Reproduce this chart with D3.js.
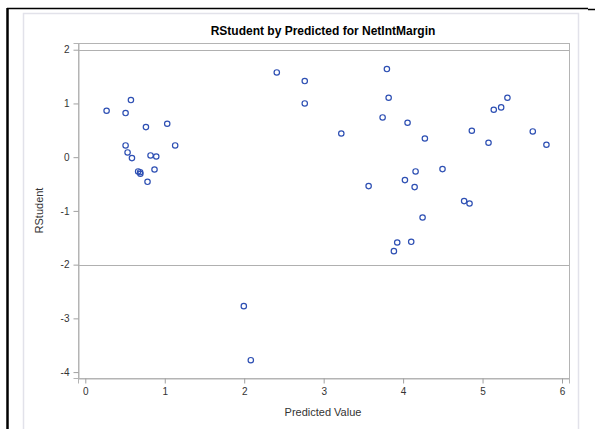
<!DOCTYPE html>
<meta charset="utf-8">
<script src="https://d3js.org/d3.v7.min.js"></script>
<style>
body { margin: 0; background: #fff; font-family: "Liberation Sans", Arial, sans-serif; }
</style>
<svg id="chart" width="595" height="429"></svg>
<script>
// predicted values and rstudent residuals
const predicted = [0.574, 0.268, 0.507, 0.763, 1.031, 0.507, 1.131, 0.532, 0.587, 0.821,
  0.893, 0.665, 0.690, 0.693, 0.871, 0.783,
  2.41, 2.762, 2.762, 1.995, 2.083,
  3.796, 3.818, 3.742, 4.056, 4.274, 3.222,
  3.566, 4.023, 4.157, 4.145, 4.245, 3.926, 4.102, 3.884,
  5.313, 5.234, 5.141, 4.865, 5.632, 5.075, 5.804, 4.496, 4.768, 4.836];
const rstudent = [1.063, 0.864, 0.821, 0.56, 0.622, 0.218, 0.218, 0.088, -0.017, 0.032,
  0.013, -0.266, -0.28, -0.309, -0.229, -0.458,
  1.577, 1.417, 1.0, -2.773, -3.779,
  1.64, 1.106, 0.739, 0.641, 0.348, 0.441,
  -0.538, -0.427, -0.266, -0.557, -1.123, -1.588, -1.575, -1.749,
  1.106, 0.926, 0.883, 0.492, 0.479, 0.268, 0.231, -0.222, -0.818, -0.862];
const xTicks = [0, 1, 2, 3, 4, 5, 6];
const yTicks = [-4, -3, -2, -1, 0, 1, 2];
const refLines = [2, -2];

const points = predicted.map((p, i) => ({ x: p, y: rstudent[i] }));

const svg = d3.select("#chart");
const pLeft = 78, pRight = 569, pTop = 43, pBottom = 378;

// outer frame lines
svg.append("line").attr("x1", 7).attr("x2", 588).attr("y1", 8.5).attr("y2", 8.5)
  .attr("stroke", "#000").attr("stroke-width", 1.5);
svg.append("line").attr("x1", 588).attr("x2", 595).attr("y1", 9.5).attr("y2", 9.5)
  .attr("stroke", "#000").attr("stroke-width", 1.5);
svg.append("line").attr("x1", 7.5).attr("x2", 7.5).attr("y1", 8).attr("y2", 429)
  .attr("stroke", "#000").attr("stroke-width", 2.5);

// graph panel
svg.append("rect").attr("x", 23.5).attr("y", 13.5).attr("width", 555).attr("height", 430)
  .attr("fill", "#fff").attr("stroke", "#e2e2ea").attr("stroke-width", 1.5);

const x = d3.scaleLinear().domain([-0.092, 6.088]).range([pLeft, pRight]);
const y = d3.scaleLinear().domain([-4.11, 2.125]).range([pBottom, pTop]);

svg.append("text").attr("x", 323).attr("y", 35).attr("text-anchor", "middle")
  .attr("font-size", 12).attr("font-weight", "bold").text("RStudent by Predicted for NetIntMargin");

// plot frame
svg.append("rect").attr("x", pLeft + 0.5).attr("y", pTop + 0.5)
  .attr("width", pRight - pLeft).attr("height", pBottom - pTop)
  .attr("fill", "none").attr("stroke", "#b4b4b4");

svg.append("g").selectAll("line").data(refLines).join("line")
  .attr("x1", pLeft).attr("x2", pRight)
  .attr("y1", d => Math.round(y(d)) + 0.5).attr("y2", d => Math.round(y(d)) + 0.5)
  .attr("stroke", "#b0b0b0").attr("stroke-width", 1.2);

const xAxis = svg.append("g").attr("transform", `translate(0,${pBottom + 0.5})`)
  .call(d3.axisBottom(x).tickValues(xTicks).tickSize(5).tickPadding(4).tickFormat(d3.format("d")));
const yAxis = svg.append("g").attr("transform", `translate(${pLeft + 0.5},0)`)
  .call(d3.axisLeft(y).tickValues(yTicks).tickSize(5).tickPadding(4).tickFormat(d3.format("d")));
[xAxis, yAxis].forEach(a => {
  a.select(".domain").attr("stroke", "#b4b4b4");
  a.selectAll(".tick line").attr("stroke", "#a0a0a0");
  a.selectAll(".tick text").attr("fill", "#333").attr("font-size", 10)
    .attr("font-family", "Liberation Sans, Arial, sans-serif");
});
yAxis.selectAll(".tick text").text(d => d < 0 ? "-" + Math.abs(d) : d);

svg.append("text").attr("x", 323).attr("y", 416).attr("text-anchor", "middle")
  .attr("font-size", 11).attr("fill", "#333").text("Predicted Value");
svg.append("text").attr("transform", `translate(43,${(pTop + pBottom) / 2}) rotate(-90)`)
  .attr("text-anchor", "middle").attr("font-size", 11).attr("fill", "#333").text("RStudent");

svg.append("g").selectAll("circle").data(points).join("circle")
  .attr("cx", d => x(d.x)).attr("cy", d => y(d.y)).attr("r", 2.7)
  .attr("fill", "none").attr("stroke", "#2d4fb3").attr("stroke-width", 1.2);
</script>
